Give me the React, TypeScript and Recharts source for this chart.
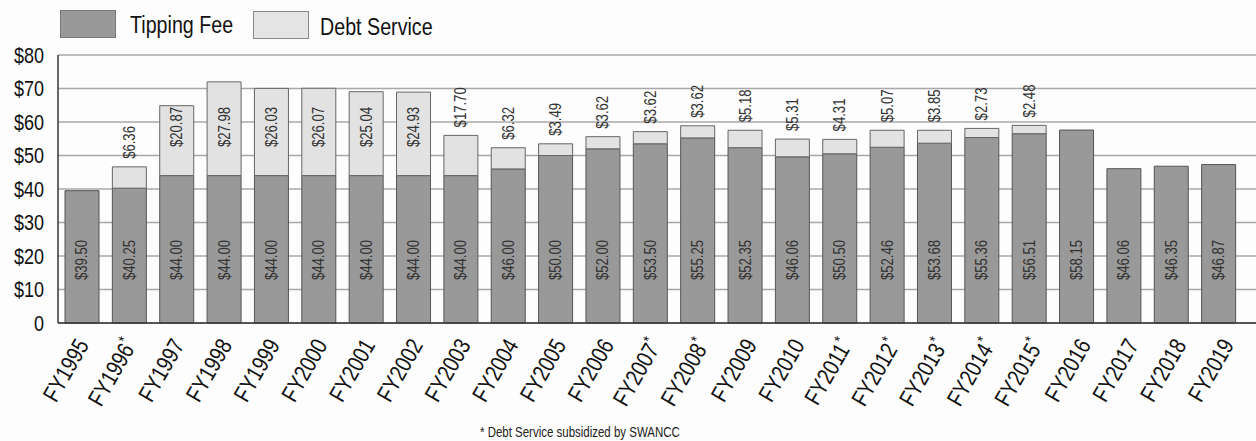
import React from 'react';
import { BarChart, Bar, XAxis, YAxis, CartesianGrid, LabelList } from 'recharts';

const categories = ['FY1995', 'FY1996*', 'FY1997', 'FY1998', 'FY1999', 'FY2000', 'FY2001', 'FY2002', 'FY2003', 'FY2004', 'FY2005', 'FY2006', 'FY2007*', 'FY2008*', 'FY2009', 'FY2010', 'FY2011*', 'FY2012*', 'FY2013*', 'FY2014*', 'FY2015*', 'FY2016', 'FY2017', 'FY2018', 'FY2019'];
const tippingFee = [39.5, 40.25, 44, 44, 44, 44, 44, 44, 44, 46, 50, 52, 53.5, 55.25, 52.35, 49.6, 50.5, 52.46, 53.68, 55.36, 56.51, 57.6, 46.06, 46.8, 47.3];
const debtService = [0, 6.36, 20.87, 27.98, 26.03, 26.07, 25.04, 24.93, 12.0, 6.32, 3.49, 3.62, 3.62, 3.62, 5.18, 5.31, 4.31, 5.07, 3.85, 2.73, 2.48, 0, 0, 0, 0];
const tippingLabels = ['$39.50', '$40.25', '$44.00', '$44.00', '$44.00', '$44.00', '$44.00', '$44.00', '$44.00', '$46.00', '$50.00', '$52.00', '$53.50', '$55.25', '$52.35', '$46.06', '$50.50', '$52.46', '$53.68', '$55.36', '$56.51', '$58.15', '$46.06', '$46.35', '$46.87'];
const debtLabels = ['', '$6.36', '$20.87', '$27.98', '$26.03', '$26.07', '$25.04', '$24.93', '$17.70', '$6.32', '$3.49', '$3.62', '$3.62', '$3.62', '$5.18', '$5.31', '$4.31', '$5.07', '$3.85', '$2.73', '$2.48', '', '', '', ''];
const yTicks = [0, 10, 20, 30, 40, 50, 60, 70, 80];

const data = categories.map((c, i) => ({
  name: c,
  tipping: tippingFee[i],
  debt: debtService[i],
  tipLabel: tippingLabels[i],
  debtLabel: debtLabels[i],
}));

const FONT = '"Liberation Sans", Arial, sans-serif';
const NARROW = 0.82;
const TOP = 55;
const BOTTOM = 323;
const INSIDE_LIMIT_Y = 107;

type NTProps = {
  x: number;
  y: number;
  angle?: number;
  size: number;
  anchor?: 'start' | 'middle' | 'end';
  baseline?: 'central' | 'auto';
  fill?: string;
  children: React.ReactNode;
};

const NarrowText = ({ x, y, angle = 0, size, anchor = 'start', baseline = 'auto', fill = '#111', children }: NTProps) => (
  <g transform={`translate(${x}, ${y}) rotate(${angle}) scale(${NARROW}, 1)`}>
    <text x={0} y={0} textAnchor={anchor} dominantBaseline={baseline} fontSize={size} fill={fill} fontFamily={FONT}>
      {children}
    </text>
  </g>
);

const TipLabel = (props: any) => {
  const { x, y, width, height, value } = props;
  if (!value) return null;
  const cx = x + width / 2;
  const cy = y + height - 63;
  return (
    <NarrowText x={cx} y={cy} angle={-90} size={16} anchor="middle" baseline="central" fill="#333">
      {value}
    </NarrowText>
  );
};

const DebtLabel = (props: any) => {
  const { x, y, width, value } = props;
  if (!value) return null;
  const cx = x + width / 2;
  const inside = y < INSIDE_LIMIT_Y + 2;
  const ay = inside ? INSIDE_LIMIT_Y : y - 8;
  return (
    <NarrowText x={cx} y={ay} angle={-90} size={16} anchor={inside ? 'end' : 'start'} baseline="central" fill="#333">
      {value}
    </NarrowText>
  );
};

const XTick = (props: any) => {
  const { x, y, payload, index } = props;
  const label: string = String(payload.value);
  const star = label.endsWith('*');
  const base = star ? label.slice(0, -1) : label;
  const shift = 8 + (index || 0) * 0.35;
  return (
    <NarrowText x={x + shift} y={y + 22} angle={-60} size={23.5} anchor="end">
      {base}
      {star ? (
        <tspan fontSize={16} dy={-9}>*</tspan>
      ) : null}
    </NarrowText>
  );
};

const YTick = (props: any) => {
  const { x, y, payload } = props;
  const v = payload.value;
  return (
    <NarrowText x={x} y={y} size={22} anchor="end" baseline="central">
      {v === 0 ? '0' : `$${v}`}
    </NarrowText>
  );
};

export default function App() {
  return (
    <div style={{ position: 'absolute', left: 0, top: 0, width: 1256, height: 441, background: '#fdfdfd' }}>
      <div style={{ position: 'absolute', left: 0, top: 0 }}>
        <BarChart width={1256} height={441} data={data} margin={{ top: TOP, right: 0, left: 0, bottom: 441 - BOTTOM - 100 }} barSize={34}>
          <CartesianGrid vertical={false} stroke="#a8a8a8" strokeWidth={1.5} />
          <XAxis dataKey="name" interval={0} tick={<XTick />} tickLine={false} tickSize={0} tickMargin={0} height={100} axisLine={{ stroke: '#333', strokeWidth: 1.5 }} padding={{ left: 0, right: 14 }} />
          <YAxis domain={[0, 80]} ticks={yTicks} width={58} tickLine={false} tickSize={0} tickMargin={14} axisLine={{ stroke: '#333', strokeWidth: 1.5 }} tick={<YTick />} />
          <Bar dataKey="tipping" stackId="a" fill="#999999" stroke="#555" strokeWidth={1} isAnimationActive={false}>
            <LabelList dataKey="tipLabel" content={<TipLabel />} />
          </Bar>
          <Bar dataKey="debt" stackId="a" fill="#e2e2e2" stroke="#666" strokeWidth={1} isAnimationActive={false}>
            <LabelList dataKey="debtLabel" content={<DebtLabel />} />
          </Bar>
        </BarChart>
      </div>
      <svg width={1256} height={441} style={{ position: 'absolute', left: 0, top: 0, pointerEvents: 'none' }}>
        <rect x={60.5} y={10.5} width={55} height={27} fill="#999999" stroke="#777" />
        <NarrowText x={130} y={33} size={24}>Tipping Fee</NarrowText>
        <rect x={253.5} y={11.5} width={55} height={27} fill="#e4e4e4" stroke="#888" />
        <NarrowText x={320} y={35} size={24}>Debt Service</NarrowText>
        <NarrowText x={480} y={437} size={14} fill="#222">{'*   Debt Service subsidized by SWANCC'}</NarrowText>
      </svg>
    </div>
  );
}
